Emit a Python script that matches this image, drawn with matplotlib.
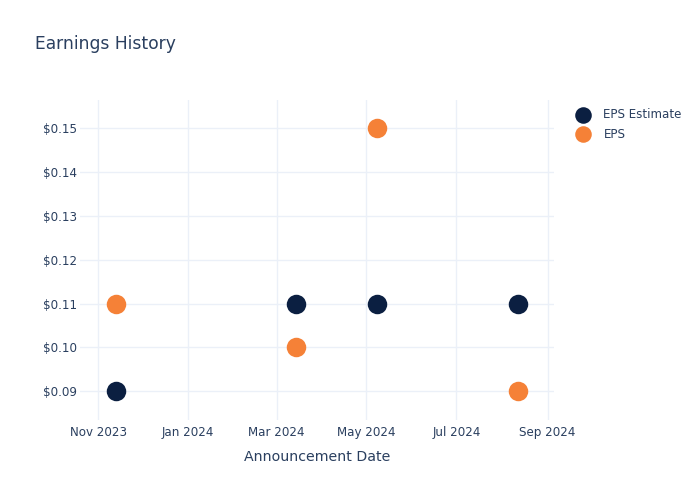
import matplotlib
matplotlib.use("Agg")
import matplotlib.pyplot as plt
import pandas as pd

dates = ["2023-11-13", "2024-03-14", "2024-05-08", "2024-08-12"]
eps_estimate = [0.09, 0.11, 0.11, 0.11]
eps_actual = [0.11, 0.10, 0.15, 0.09]
y_ticks = [0.09, 0.10, 0.11, 0.12, 0.13, 0.14, 0.15]
x_ticks = ["2023-11-01", "2024-01-01", "2024-03-01", "2024-05-01", "2024-07-01", "2024-09-01"]

TEXT = "#2a3f5f"
GRID = "#EBF0F8"
NAVY = "#0B1F41"
ORANGE = "#F58137"

plt.rcParams['font.family'] = ['DejaVu Sans']

fig = plt.figure(figsize=(7, 5), dpi=100)
ax = fig.add_axes([80/700, 80/500, 474/700, 320/500])

d = pd.to_datetime(dates)
s = (19.5 * 0.72) ** 2
ax.scatter(d, eps_estimate, s=s, color=NAVY, label="EPS Estimate", zorder=3, linewidths=0)
ax.scatter(d, eps_actual, s=s, color=ORANGE, label="EPS", zorder=3, linewidths=0)

ax.set_xlim(pd.Timestamp("2023-10-19 14:00"), pd.Timestamp("2024-09-05 07:00"))
ax.set_ylim(0.08345, 0.15646)

ax.set_yticks(y_ticks)
ax.set_yticklabels([f"${v:.2f}" for v in y_ticks])
xt = pd.to_datetime(x_ticks)
ax.set_xticks(xt)
ax.set_xticklabels([t.strftime("%b %Y") for t in xt])

ax.grid(True, color=GRID, linewidth=1)
ax.set_axisbelow(True)
for sp in ax.spines.values():
    sp.set_visible(False)
ax.tick_params(axis='both', length=0, labelsize=8.6, colors=TEXT)
ax.tick_params(axis='y', pad=2)
ax.tick_params(axis='x', pad=4)

ax.set_xlabel("Announcement Date", fontsize=10.2, color=TEXT, labelpad=8)

fig.text(35/700, 1 - 44/500, "Earnings History", fontsize=12.3, color=TEXT, va='center', ha='left')

leg = fig.legend(loc='upper left', bbox_to_anchor=(570/700, 1 - 102/500), frameon=False,
                 fontsize=8.6, labelcolor=TEXT, markerscale=0.85, handletextpad=1.1,
                 labelspacing=0.55, borderpad=0, handlelength=1.2)

fig.savefig("out.png", dpi=100, facecolor="white")
